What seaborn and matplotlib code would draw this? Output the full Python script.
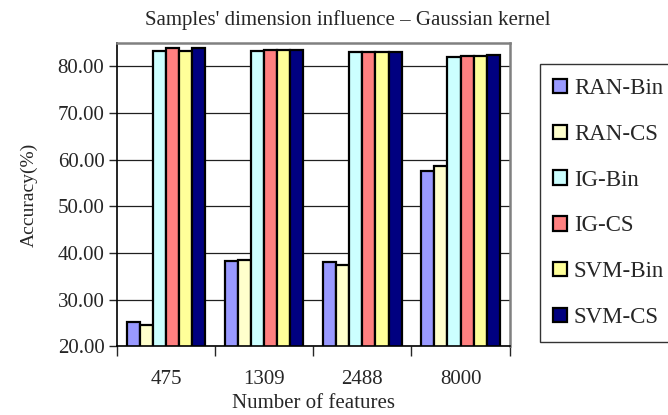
import matplotlib.pyplot as plt
import seaborn as sns
from pandas import DataFrame

kategorieen = ["475", "1309", "2488", "8000"]
reeksen = ["RAN-Bin", "RAN-CS", "IG-Bin", "IG-CS", "SVM-Bin", "SVM-CS"]

ran_bin = [25.1, 38.3, 38.1, 57.6]
ran_cs = [24.6, 38.5, 37.5, 58.7]
ig_bin = [83.4, 83.4, 83.0, 82.0]
ig_cs = [83.9, 83.5, 83.1, 82.2]
svm_bin = [83.4, 83.5, 83.0, 82.2]
svm_cs = [83.9, 83.6, 83.2, 82.4]

kleuren = ["#9999FF", "#FFFFCC", "#CCFFFF", "#FF8080", "#FFFF99", "#000080"]

waarden = [ran_bin, ran_cs, ig_bin, ig_cs, svm_bin, svm_cs]
rijen = []
for naam, reeks in zip(reeksen, waarden):
    for kat, w in zip(kategorieen, reeks):
        rijen.append({"features": kat, "reeks": naam, "accuracy": w})
df = DataFrame(rijen)

sns.set_style("white")
plt.rcParams["font.family"] = ["Liberation Serif", "DejaVu Serif"]

fig = plt.figure(figsize=(6.68, 4.15), dpi=100)
ax = fig.add_axes([0.175, 0.166, 0.588, 0.730])

sns.barplot(
    data=df, x="features", y="accuracy", hue="reeks",
    order=kategorieen, hue_order=reeksen, palette=kleuren, saturation=1,
    edgecolor="black", linewidth=1.6, width=0.8, ax=ax,
)

ax.set_ylim(20, 85)
ax.set_yticks([20, 30, 40, 50, 60, 70, 80])
ax.set_yticklabels([f"{v:.2f}" for v in ax.get_yticks()], fontsize=15)
ax.yaxis.grid(True, color="#202020", linewidth=0.9)
ax.set_axisbelow(True)
ax.tick_params(axis="y", length=6, width=1, direction="out", left=True, pad=3)

ax.set_xlim(-0.5, 3.5)
ax.set_xticks(range(4))
ax.set_xticklabels(kategorieen, fontsize=15)
ax.tick_params(axis="x", length=0, pad=17)
ax.set_xticks([-0.5, 0.5, 1.5, 2.5, 3.5], minor=True)
ax.tick_params(axis="x", which="minor", length=7, width=1, direction="out", bottom=True)

for kant in ["top", "right"]:
    ax.spines[kant].set_color("#808080")
    ax.spines[kant].set_linewidth(1.8)
for kant in ["left", "bottom"]:
    ax.spines[kant].set_color("black")
    ax.spines[kant].set_linewidth(1.2)

ax.set_xlabel("Number of features", fontsize=15, labelpad=4)
ax.set_ylabel("Accuracy(%)", fontsize=14, labelpad=14)
fig.text(0.521, 0.94, "Samples' dimension influence – Gaussian kernel",
         fontsize=15, ha="center", va="baseline")

ax.legend(
    loc="upper left", bbox_to_anchor=(1.076, 0.93), fontsize=16.5,
    frameon=True, fancybox=False, edgecolor="black", labelspacing=1.08,
    handlelength=0.6, handleheight=0.6, handletextpad=0.3,
    borderpad=0.6, borderaxespad=0, title=None,
)
ax.get_legend().get_frame().set_linewidth(1.0)

fig.savefig("out.png", dpi=100)
